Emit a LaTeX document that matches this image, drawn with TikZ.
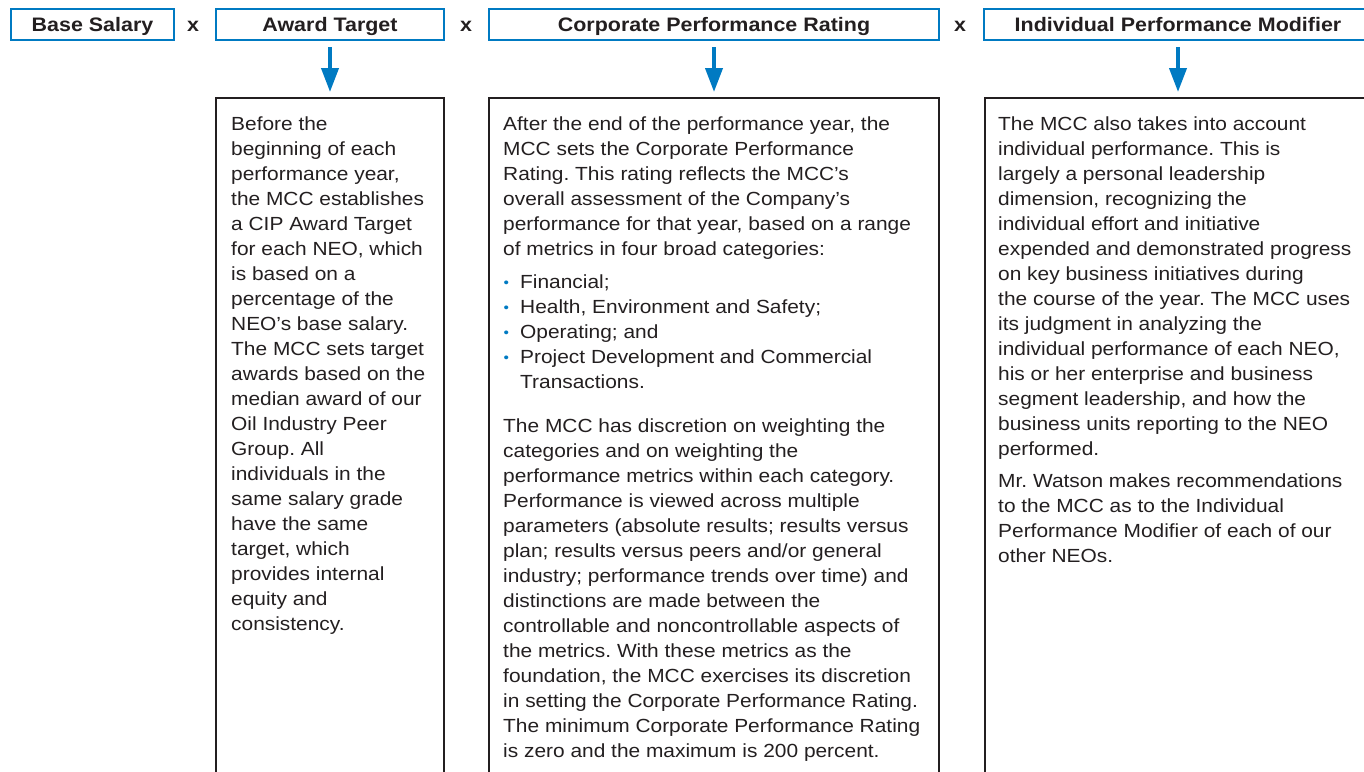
\documentclass[tikz,border=0pt]{standalone}
\usepackage{fontspec}
\setmainfont{Liberation Sans}[FakeStretch=1.1]
\usetikzlibrary{arrows.meta,positioning}
\frenchspacing

\definecolor{cipblue}{RGB}{0,122,194}
\definecolor{inkgray}{RGB}{35,31,32}

% small blue bullet for the category list
\newcommand{\catbul}{\makebox[17pt][l]{\hspace*{0.5pt}\raisebox{1.8pt}{\textcolor{cipblue}{\fontsize{14}{14}\selectfont\textbullet}}}}

\begin{document}
\begin{tikzpicture}[x=1pt, y=-1pt,
    hdr/.style={draw=cipblue, line width=2pt, minimum height=31pt, inner sep=0pt,
        text height=14pt, text depth=0pt,
        anchor=north west, text=inkgray, font=\fontsize{19.5}{24}\selectfont\bfseries},
    times/.style={text=inkgray, inner sep=0pt, font=\fontsize{19.5}{24}\selectfont\bfseries},
    bodybox/.style={draw=inkgray, line width=2pt, minimum height=720pt, inner sep=0pt, anchor=north west},
    bodytext/.style={align=left, anchor=north west, inner sep=0pt, text=inkgray,
        font=\fontsize{19}{25}\selectfont},
    flow/.style={draw=cipblue, line width=4pt, -{Triangle[width=17pt,length=24pt]},
        shorten <=6pt, shorten >=5pt}]
    \useasboundingbox (0,0) rectangle (1364,771);

    % the four factors of the formula
    \node[hdr, minimum width=163pt] (salary) at (10,8) {Base Salary};
    \node[hdr, minimum width=228pt] (target) at (215,8) {Award Target};
    \node[hdr, minimum width=450pt] (corp) at (488,8) {Corporate Performance Rating};
    \node[hdr, minimum width=388pt] (indiv) at (983,8) {Individual Performance Modifier};
    \node[times] (x1) at (193,26) {x};
    \node[times] (x2) at (466,26) {x};
    \node[times] (x3) at (960,26) {x};

    % explanation boxes under the factors
    \node[bodybox, minimum width=228pt] (targetbox) at (215,97) {};
    \node[bodybox, minimum width=450pt] (corpbox) at (488,97) {};
    \node[bodybox, minimum width=400pt] (indivbox) at (984,97) {};

    \draw[flow] (target.south) -- (target.south |- targetbox.north);
    \draw[flow] (corp.south) -- (corp.south |- corpbox.north);
    \draw[flow] (indiv.south) -- (indiv.south |- indivbox.north);

    \node[bodytext] (targettext) at ([xshift=16pt, yshift=-20pt]targetbox.north west) {%
        Before the\\
        beginning of each\\
        performance year,\\
        the MCC establishes\\
        a CIP Award Target\\
        for each NEO, which\\
        is based on a\\
        percentage of the\\
        NEO’s base salary.\\
        The MCC sets target\\
        awards based on the\\
        median award of our\\
        Oil Industry Peer\\
        Group. All\\
        individuals in the\\
        same salary grade\\
        have the same\\
        target, which\\
        provides internal\\
        equity and\\
        consistency.};

    \node[bodytext] (corptext) at ([xshift=15pt, yshift=-20pt]corpbox.north west) {%
        After the end of the performance year, the\\
        MCC sets the Corporate Performance\\
        Rating. This rating reflects the MCC’s\\
        overall assessment of the Company’s\\
        performance for that year, based on a range\\
        of metrics in four broad categories:\\[8pt]
        \catbul Financial;\\
        \catbul Health, Environment and Safety;\\
        \catbul Operating; and\\
        \catbul Project Development and Commercial\\
        \hspace*{17pt}Transactions.\\[19pt]
        The MCC has discretion on weighting the\\
        categories and on weighting the\\
        performance metrics within each category.\\
        Performance is viewed across multiple\\
        parameters (absolute results; results versus\\
        plan; results versus peers and/or general\\
        industry; performance trends over time) and\\
        distinctions are made between the\\
        controllable and noncontrollable aspects of\\
        the metrics. With these metrics as the\\
        foundation, the MCC exercises its discretion\\
        in setting the Corporate Performance Rating.\\
        The minimum Corporate Performance Rating\\
        is zero and the maximum is 200 percent.};

    \node[bodytext] (indivtext) at ([xshift=14pt, yshift=-20pt]indivbox.north west) {%
        The MCC also takes into account\\
        individual performance. This is\\
        largely a personal leadership\\
        dimension, recognizing the\\
        individual effort and initiative\\
        expended and demonstrated progress\\
        on key business initiatives during\\
        the course of the year. The MCC uses\\
        its judgment in analyzing the\\
        individual performance of each NEO,\\
        his or her enterprise and business\\
        segment leadership, and how the\\
        business units reporting to the NEO\\
        performed.\\[7pt]
        Mr. Watson makes recommendations\\
        to the MCC as to the Individual\\
        Performance Modifier of each of our\\
        other NEOs.};
\end{tikzpicture}
\end{document}
